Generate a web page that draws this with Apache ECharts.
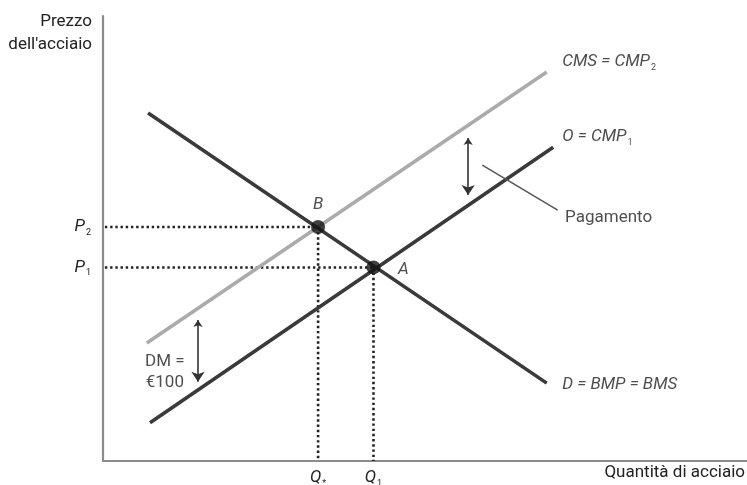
<!DOCTYPE html>
<html>
<head>
<meta charset="utf-8">
<script src="https://cdn.jsdelivr.net/npm/echarts@6/dist/echarts.min.js"></script>
<style>
html,body{margin:0;padding:0;background:#fff;}
#chart{width:747px;height:485px;}
</style>
</head>
<body>
<div id="chart"></div>
<script>
// ---- data (quantity on x, price on y, abstract units 0-100) ----
const demandLine = [[7.0, 78.2], [68.9, 17.5]];      // D = BMP = BMS
const supplyLine = [[7.3, 8.6], [69.9, 70.5]];       // O = CMP1
const socialCostLine = [[6.8, 26.5], [68.9, 87.4]];  // CMS = CMP2
const pointNames = ['B', 'A'];
const pointQ = [33.4, 42.0];
const pointP = [52.6, 43.5];
const priceTickValues = [52.6, 43.5];
const priceTickLabels = ['{i|P}{s|2}', '{i|P}{s|1}'];
const qtyTickValues = [33.4, 42.0];
const qtyTickLabels = ['{i|Q}{s|*}', '{i|Q}{s|1}'];
const paymentArrow = [[56.7, 72.6], [56.7, 59.8]];
const dmArrow = [[14.75, 31.7], [14.75, 17.8]];
const leaderLine = [[58.9, 66.5], [70.6, 56.4]];
const labelTexts = ['{i|CMS = CMP}{s|2}', '{i|O = CMP}{s|1}', '{i|D = BMP = BMS}', 'Pagamento', 'DM =\n€100', '{i|B}', '{i|A}'];
const labelQ = [71.3, 71.3, 71.3, 71.75, 9.6, 33.4, 45.8];
const labelP = [89.7, 72.8, 17.1, 54.6, 20.0, 57.5, 42.9];
const labelAlign = ['left', 'left', 'left', 'left', 'center', 'center', 'left'];

const FONT = 'Roboto, "Liberation Sans Narrow", sans-serif';
const DARK = '#3a3a3a';
const LIGHT = '#ababab';
const TEXT = '#222';
const FS = 17;

const rich = {
  i: {fontFamily: FONT, fontStyle: 'italic', fontSize: FS, color: TEXT, lineHeight: 20},
  s: {fontFamily: FONT, fontSize: 9, color: TEXT, lineHeight: 20, verticalAlign: 'bottom', padding: [9, 0, 0, 1]},
  n: {fontFamily: FONT, fontSize: FS, color: TEXT, lineHeight: 21, align: 'center'}
};

const chart = echarts.init(document.getElementById('chart'), null, {renderer: 'canvas'});

const dotted = [];
pointQ.forEach((q, i) => {
  dotted.push([[0.3, pointP[i]], [q, pointP[i]]]);
  dotted.push([[q, pointP[i]], [q, 0]]);
});

const series = [];
dotted.forEach(seg => series.push({
  type: 'line', data: seg, symbol: 'none', silent: true, z: 2,
  lineStyle: {color: '#222', width: 2.6, type: [2.4, 2.8]}
}));
series.push({type: 'line', data: socialCostLine, symbol: 'none', z: 3, lineStyle: {color: LIGHT, width: 3.6}});
series.push({type: 'line', data: demandLine, symbol: 'none', z: 4, lineStyle: {color: DARK, width: 3.6}});
series.push({type: 'line', data: supplyLine, symbol: 'none', z: 4, lineStyle: {color: DARK, width: 3.6}});
series.push({
  type: 'lines', coordinateSystem: 'cartesian2d', z: 5,
  symbol: ['arrow', 'arrow'], symbolSize: [7, 10],
  lineStyle: {color: '#333', width: 1.6, opacity: 1},
  data: [{coords: paymentArrow}, {coords: dmArrow}]
});
series.push({
  type: 'lines', coordinateSystem: 'cartesian2d', z: 5, symbol: 'none',
  lineStyle: {color: '#555', width: 1.5, opacity: 1},
  data: [{coords: leaderLine}]
});
series.push({
  type: 'scatter', symbol: 'circle', symbolSize: 14, z: 6,
  itemStyle: {color: '#111'},
  data: pointQ.map((q, i) => ({name: pointNames[i], value: [q, pointP[i]]}))
});
series.push({
  type: 'scatter', symbolSize: 0, z: 7, silent: true,
  data: labelTexts.map((t, i) => ({
    value: [labelQ[i], labelP[i]],
    label: {
      show: true, position: 'inside', formatter: t.indexOf('{') === 0 ? t : t.split('\n').map(s => '{n|' + s + '}').join('\n'),
      align: labelAlign[i], verticalAlign: 'middle', rich: rich
    }
  }))
});

chart.setOption({
  animation: false,
  backgroundColor: '#fff',
  grid: {left: 103, right: 0, top: 16, bottom: 24, containLabel: false, outerBoundsMode: 'none'},
  xAxis: {
    type: 'value', min: 0, max: 100,
    axisLine: {show: true, lineStyle: {color: '#8c8c8c', width: 2.2}},
    axisTick: {show: false}, splitLine: {show: false},
    axisLabel: {
      show: true, customValues: qtyTickValues, margin: 7,
      formatter: v => qtyTickLabels[qtyTickValues.indexOf(v)] || '', rich: rich
    }
  },
  yAxis: {
    type: 'value', min: 0, max: 100,
    axisLine: {show: true, lineStyle: {color: '#8c8c8c', width: 2.2}},
    axisTick: {show: false}, splitLine: {show: false},
    axisLabel: {
      show: true, customValues: priceTickValues, margin: 12,
      formatter: v => priceTickLabels[priceTickValues.indexOf(v)] || '', rich: rich
    }
  },
  graphic: [
    {type: 'text', x: 92, y: 22, style: {text: 'Prezzo', font: FS + 'px ' + FONT, fill: TEXT, align: 'right', verticalAlign: 'middle'}},
    {type: 'text', x: 92, y: 45, style: {text: "dell'acciaio", font: FS + 'px ' + FONT, fill: TEXT, align: 'right', verticalAlign: 'middle'}},
    {type: 'text', x: 745, y: 473, style: {text: 'Quantità di acciaio', font: FS + 'px ' + FONT, fill: TEXT, align: 'right', verticalAlign: 'middle'}}
  ],
  series: series
});
</script>
</body>
</html>
